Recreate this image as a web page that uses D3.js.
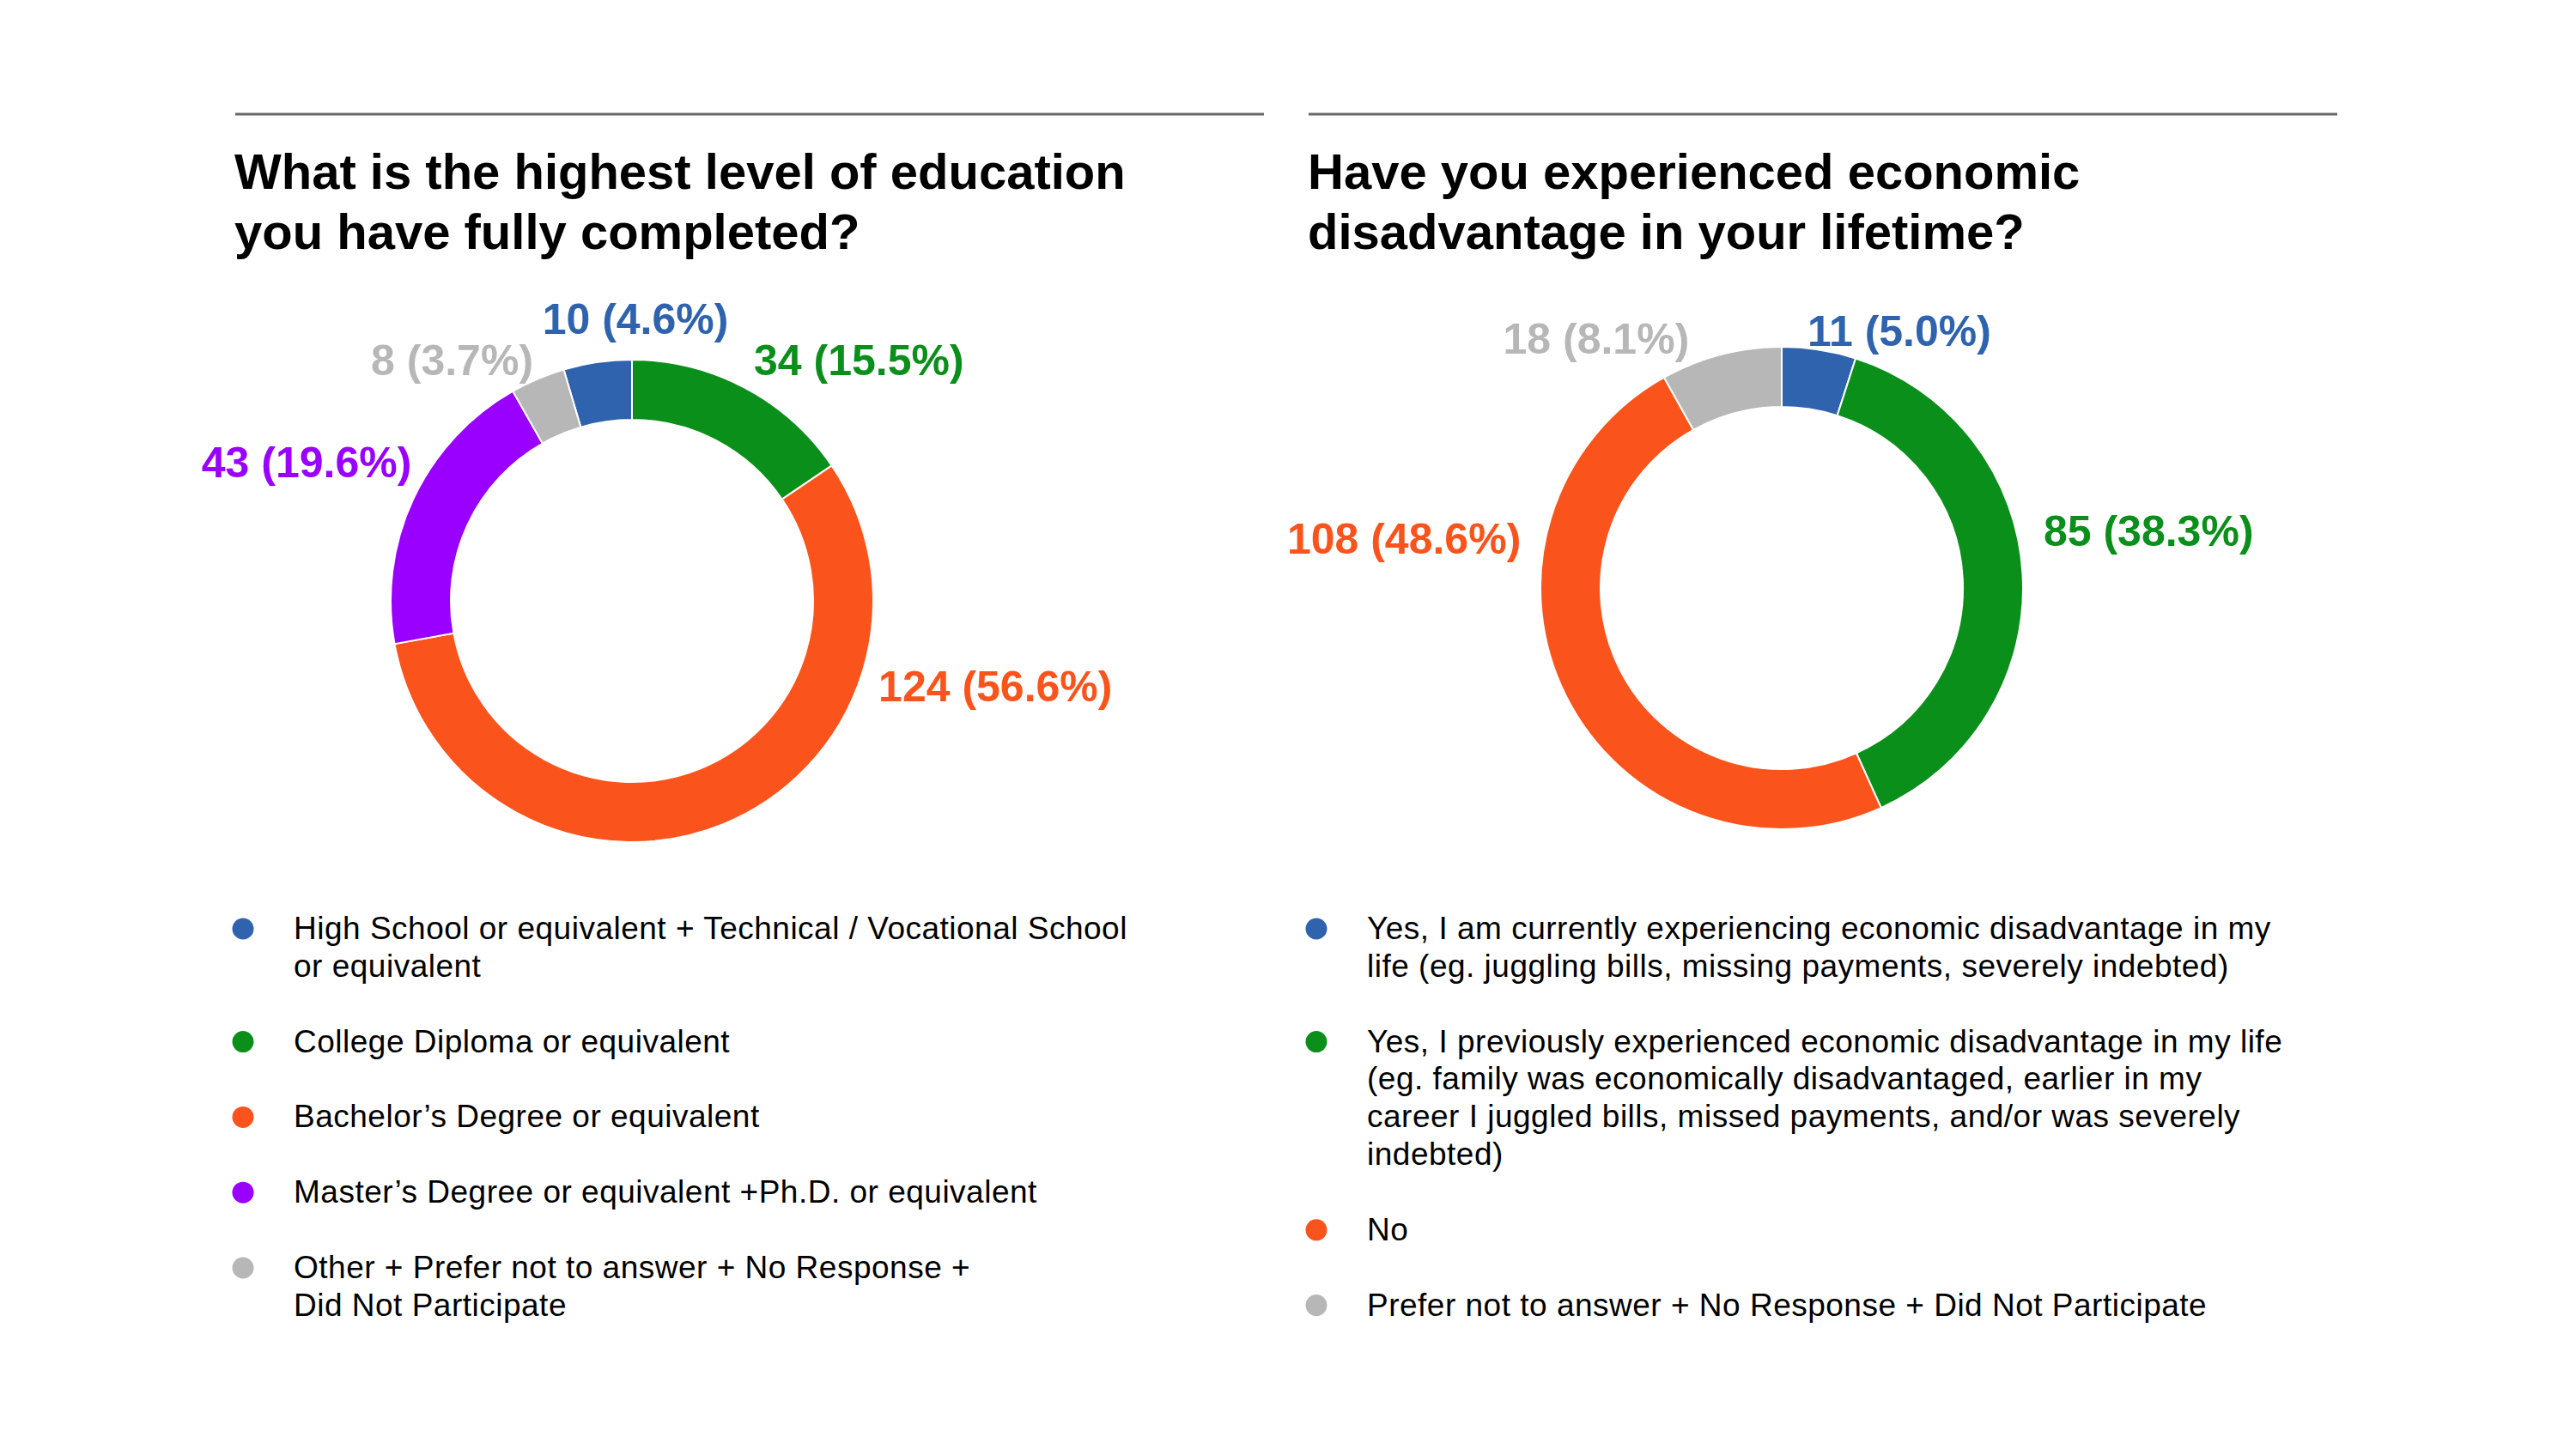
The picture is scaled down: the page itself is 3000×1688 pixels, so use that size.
<!DOCTYPE html>
<html>
<head>
<meta charset="utf-8">
<script src="https://cdn.jsdelivr.net/npm/d3@7"></script>
<style>
  html, body { margin: 0; padding: 0; background: #fff; }
  svg { display: block; font-family: "Liberation Sans", Arial, Helvetica, sans-serif; }
</style>
</head>
<body>
<svg id="chart" width="3000" height="1688"></svg>
<script>
/************************************ Data *******************************/
var eduTitle = ["What is the highest level of education", "you have fully completed?"];
var eduCategories = [
	["High School or equivalent + Technical / Vocational School", "or equivalent"],
	["College Diploma or equivalent"],
	["Bachelor\u2019s Degree or equivalent"],
	["Master\u2019s Degree or equivalent +Ph.D. or equivalent"],
	["Other + Prefer not to answer + No Response +", "Did Not Participate"]
];
var eduCounts = [10, 34, 124, 43, 8];

var econTitle = ["Have you experienced economic", "disadvantage in your lifetime?"];
var econCategories = [
	["Yes, I am currently experiencing economic disadvantage in my", "life (eg. juggling bills, missing payments, severely indebted)"],
	["Yes, I previously experienced economic disadvantage in my life", "(eg. family was economically disadvantaged, earlier in my", "career I juggled bills, missed payments, and/or was severely", "indebted)"],
	["No"],
	["Prefer not to answer + No Response + Did Not Participate"]
];
var econCounts = [11, 85, 108, 18];

/************************************ Styles / layout *******************************/
var eduColors  = ["#2f63ae", "#0b8f1b", "#fa541c", "#9900ff", "#b7b7b7"];
var econColors = ["#2f63ae", "#0b8f1b", "#fa541c", "#b7b7b7"];

// where each value label sits: angle (deg, clockwise from top) and distance from centre
var eduLabelAngle  = [0.7, 26.9, 109.2, -57.9, -22.3];
var eduLabelDist   = [328, 314, 304, 303, 303];
var econLabelAngle = [5.7, 77.8, -79.4, -20.4];
var econLabelDist  = [301, 312, 309, 309];

var panels = [
	// the education donut is turned so its first slice ends at twelve o'clock
	{title: eduTitle, cats: eduCategories, counts: eduCounts, colors: eduColors,
	 la: eduLabelAngle, ld: eduLabelDist, x0: 274, cx: 736, cy: 700, firstEndsAtTop: true},
	{title: econTitle, cats: econCategories, counts: econCounts, colors: econColors,
	 la: econLabelAngle, ld: econLabelDist, x0: 1524, cx: 2075, cy: 685, firstEndsAtTop: false}
];

var svg = d3.select("#chart");
var ruleY = 133, ruleW = 1198;
var outerR = 281, innerR = 211;
var lineH = 43.8, itemGap = 44;

var arc = d3.arc().innerRadius(innerR).outerRadius(outerR);

panels.forEach(function(p){
	var g = svg.append("g");

	// top rule
	g.append("line")
		.attr("x1", p.x0).attr("x2", p.x0 + ruleW)
		.attr("y1", ruleY).attr("y2", ruleY)
		.attr("stroke", "#666").attr("stroke-width", 3);

	// title
	g.selectAll("text.title").data(p.title).enter()
		.append("text").attr("class", "title")
		.attr("x", p.x0 - 1)
		.attr("y", function(d, i){ return 220 + i * 70; })
		.attr("font-size", 58).attr("font-weight", "bold")
		.attr("fill", "#000")
		.text(function(d){ return d; });

	// donut
	var total = d3.sum(p.counts);
	var start = p.firstEndsAtTop ? -2 * Math.PI * p.counts[0] / total : 0;
	var pie = d3.pie().sort(null).value(function(d){ return d; })
		.startAngle(start).endAngle(start + 2 * Math.PI);
	var arcs = pie(p.counts);
	var donut = g.append("g").attr("transform", "translate(" + p.cx + "," + p.cy + ")");
	donut.selectAll("path").data(arcs).enter()
		.append("path")
		.attr("d", arc)
		.attr("fill", function(d, i){ return p.colors[i]; })
		.attr("stroke", "#fff").attr("stroke-width", 2);

	// value labels
	donut.selectAll("text.val").data(arcs).enter()
		.append("text").attr("class", "val")
		.attr("x", function(d, i){ return p.ld[i] * Math.sin(p.la[i] * Math.PI / 180); })
		.attr("y", function(d, i){ return -p.ld[i] * Math.cos(p.la[i] * Math.PI / 180); })
		.attr("text-anchor", function(d, i){
			var a = p.la[i];
			return Math.abs(a) < 3 ? "middle" : (a > 0 ? "start" : "end");
		})
		.attr("dominant-baseline", "central")
		.attr("font-size", 50).attr("font-weight", "bold")
		.attr("fill", function(d, i){ return p.colors[i]; })
		.text(function(d){ return d.value + " (" + (d.value / total * 100).toFixed(1) + "%)"; });

	// legend
	var y = 1094;
	p.cats.forEach(function(lines, i){
		g.append("circle")
			.attr("cx", p.x0 + 9).attr("cy", y - 12).attr("r", 12.5)
			.attr("fill", p.colors[i]);
		var t = g.append("text")
			.attr("x", p.x0 + 68).attr("y", y)
			.attr("font-size", 37).attr("letter-spacing", 0.5).attr("fill", "#000");
		lines.forEach(function(s, j){
			t.append("tspan").attr("x", p.x0 + 68).attr("y", y + j * lineH).text(s);
		});
		y += lines.length * lineH + itemGap;
	});
});
</script>
</body>
</html>
